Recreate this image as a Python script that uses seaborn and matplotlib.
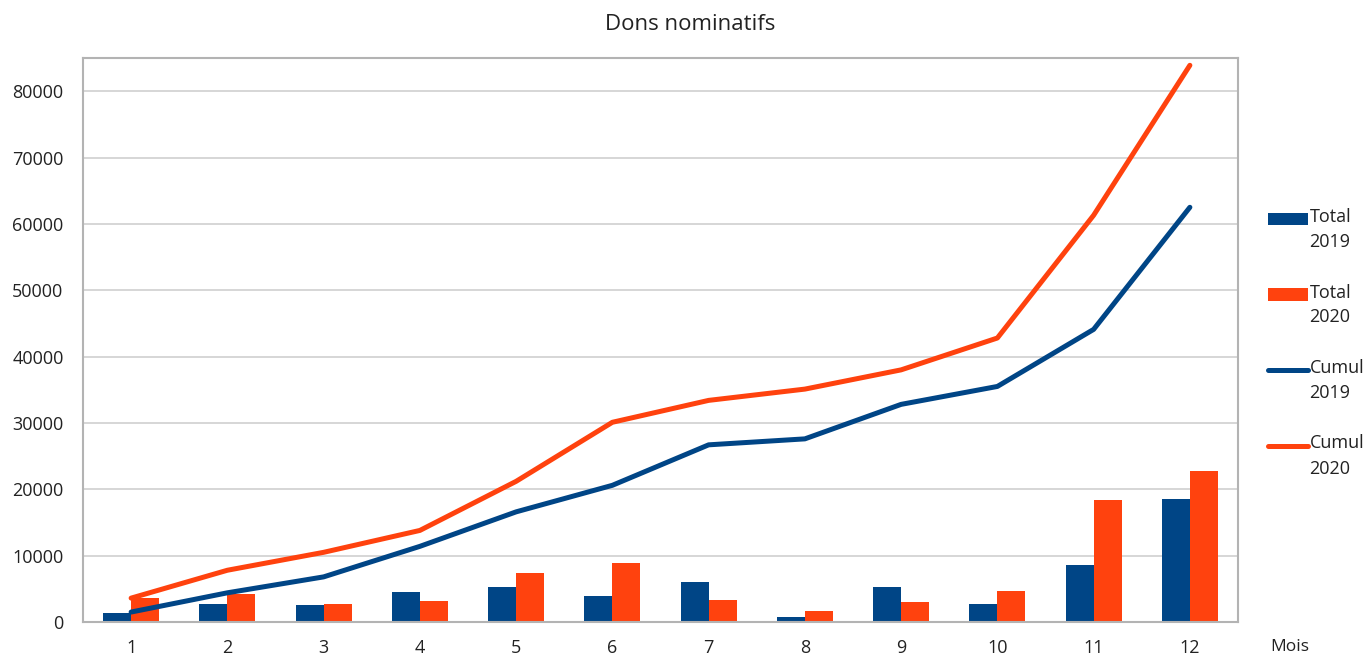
import pandas as pd
import numpy as np
import seaborn as sns
import matplotlib.pyplot as plt
from matplotlib.patches import Patch, Rectangle
from matplotlib.lines import Line2D
from matplotlib.legend_handler import HandlerBase

# Data
mois = ['1', '2', '3', '4', '5', '6', '7', '8', '9', '10', '11', '12']
total_2019 = [1400, 2700, 2500, 4500, 5300, 3900, 6000, 800, 5200, 2700, 8600, 18500]
total_2020 = [3600, 4200, 2700, 3200, 7400, 8900, 3300, 1650, 3000, 4700, 18400, 22800]
cumul_2019 = [1500, 4400, 6800, 11400, 16600, 20600, 26700, 27600, 32800, 35500, 44100, 62500]
cumul_2020 = [3600, 7800, 10500, 13800, 21200, 30100, 33400, 35100, 38000, 42800, 61300, 83900]

blue = '#004586'
orange = '#ff420e'
txt = '#222222'
lw = 3.6

sns.set_style('white')
plt.rcParams['font.family'] = ['Open Sans', 'DejaVu Sans']

bars = pd.DataFrame({
    'Mois': mois * 2,
    'Dons': total_2019 + total_2020,
    'Serie': ['Total 2019'] * 12 + ['Total 2020'] * 12,
})
lines = pd.DataFrame({
    'pos': list(range(12)) * 2,
    'Dons': cumul_2019 + cumul_2020,
    'Serie': ['Cumul 2019'] * 12 + ['Cumul 2020'] * 12,
})


# legend handle drawn next to the first line of a two-line label
class FirstLineHandler(HandlerBase):
    def __init__(self, shift):
        super().__init__()
        self.shift = shift

    def create_artists(self, legend, orig_handle, xdescent, ydescent,
                       width, height, fontsize, trans):
        yc = height / 2 - ydescent + self.shift
        if isinstance(orig_handle, Patch):
            art = Rectangle((-xdescent, yc - height / 2), width, height,
                            facecolor=orig_handle.get_facecolor(), edgecolor='none',
                            transform=trans)
        else:
            art = Line2D([-xdescent, -xdescent + width], [yc, yc],
                         color=orig_handle.get_color(), linewidth=lw,
                         solid_capstyle='round', transform=trans)
        return [art]


fig = plt.figure(figsize=(13.66, 6.53), dpi=100)
ax = fig.add_axes([83 / 1366, 31 / 653, 1155 / 1366, 564 / 653])

sns.barplot(data=bars, x='Mois', y='Dons', hue='Serie', order=mois,
            palette=[blue, orange], width=0.58, saturation=1, linewidth=0,
            legend=False, ax=ax)
sns.lineplot(data=lines, x='pos', y='Dons', hue='Serie', palette=[blue, orange],
             linewidth=lw, legend=False, ax=ax, solid_capstyle='round')

ax.set_xlim(-0.5, 11.5)
ax.set_ylim(0, 85000)
ax.set_yticks(range(0, 80001, 10000))
ax.yaxis.grid(True, color='#d0d0d0', linewidth=1.2)
ax.set_axisbelow(True)
for s in ax.spines.values():
    s.set_color('#b3b3b3')
    s.set_linewidth(1.5)
ax.tick_params(axis='both', length=0, labelsize=13, colors=txt)
ax.tick_params(axis='x', pad=12)
ax.tick_params(axis='y', pad=14)
ax.set_xlabel('')
ax.set_ylabel('')

fig.text(690 / 1366, 1 - 24 / 653, 'Dons nominatifs', ha='center', va='center',
         fontsize=16, color=txt)
fig.text(1290 / 1366, 1 - 647 / 653, 'Mois', ha='center', va='center',
         fontsize=12.5, color=txt)

handles = [
    Patch(facecolor=blue, edgecolor='none'),
    Patch(facecolor=orange, edgecolor='none'),
    Line2D([], [], color=blue, linewidth=lw),
    Line2D([], [], color=orange, linewidth=lw),
]
labels = ['Total\n2019', 'Total\n2020', 'Cumul\n2019', 'Cumul\n2020']
h = FirstLineHandler(8)
leg = fig.legend(handles, labels, loc='upper left',
                 bbox_to_anchor=(1268 / 1366, 1 - 208 / 653), frameon=False,
                 fontsize=13, handlelength=2.2, handleheight=0.7,
                 handletextpad=0.1, labelspacing=1.8, borderpad=0, borderaxespad=0,
                 handler_map={Patch: h, Line2D: h})
for t in leg.get_texts():
    t.set_linespacing(1.5)
    t.set_color(txt)

fig.savefig('out.png', dpi=100)
